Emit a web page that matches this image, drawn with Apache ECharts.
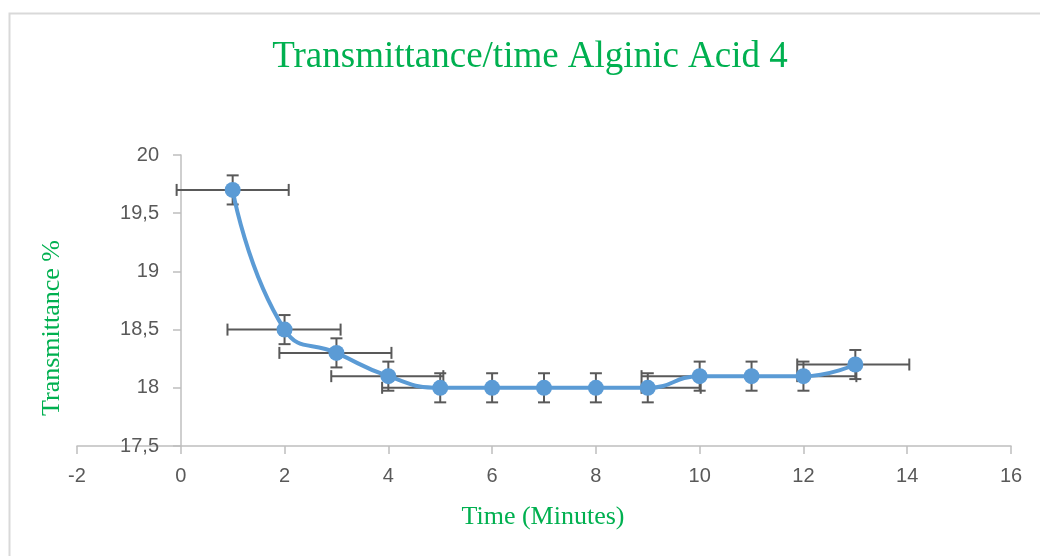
<!DOCTYPE html>
<html>
<head>
<meta charset="utf-8">
<script src="https://cdn.jsdelivr.net/npm/echarts@6/dist/echarts.min.js"></script>
<style>
html,body{margin:0;padding:0;background:#fff;}
#chart{width:1040px;height:556px;}
</style>
</head>
<body>
<div id="chart"></div>
<script>
// ---- data ----
const titleText = 'Transmittance/time Alginic Acid 4';
const xName = 'Time (Minutes)';
const yName = 'Transmittance %';
const timeMin = [1, 2, 3, 4, 5, 6, 7, 8, 9, 10, 11, 12, 13];
const transmittance = [19.7, 18.5, 18.3, 18.1, 18, 18, 18, 18, 18, 18.1, 18.1, 18.1, 18.2];
const yError = [0.125, 0.125, 0.125, 0.125, 0.125, 0.125, 0.125, 0.125, 0.125, 0.125, 0.125, 0.125, 0.125];
const xErrLow = [-0.08, 0.9, 1.9, 2.9, 3.88, null, null, null, 8.88, 8.88, null, 11.88, 11.88];
const xErrHigh = [2.08, 3.08, 4.06, 5.06, 5.04, null, null, null, 10.02, 10.02, null, 13.02, 14.04];
const xTicks = {min: -2, max: 16, interval: 2};
const yTicks = {min: 17.5, max: 20, interval: 0.5};

const points = timeMin.map((t, i) => [t, transmittance[i]]);
const green = '#00B050';
const axisGray = '#BFBFBF';
const labelGray = '#595959';
const barColor = '#595959';

const chart = echarts.init(document.getElementById('chart'));

function renderErr(params, api) {
  const i = params.dataIndex;
  const x = timeMin[i], y = transmittance[i], e = yError[i];
  const style = {stroke: barColor, lineWidth: 2, fill: null};
  const ch = [];
  const top = api.coord([x, y + e]);
  const bot = api.coord([x, y - e]);
  const cap = 6;
  ch.push({type: 'line', shape: {x1: top[0], y1: top[1], x2: bot[0], y2: bot[1]}, style});
  ch.push({type: 'line', shape: {x1: top[0] - cap, y1: top[1], x2: top[0] + cap, y2: top[1]}, style});
  ch.push({type: 'line', shape: {x1: bot[0] - cap, y1: bot[1], x2: bot[0] + cap, y2: bot[1]}, style});
  if (xErrLow[i] !== null && xErrHigh[i] !== null) {
    const l = api.coord([xErrLow[i], y]);
    const r = api.coord([xErrHigh[i], y]);
    ch.push({type: 'line', shape: {x1: l[0], y1: l[1], x2: r[0], y2: r[1]}, style});
    ch.push({type: 'line', shape: {x1: l[0], y1: l[1] - cap, x2: l[0], y2: l[1] + cap}, style});
    ch.push({type: 'line', shape: {x1: r[0], y1: r[1] - cap, x2: r[0], y2: r[1] + cap}, style});
  }
  return {type: 'group', children: ch};
}

chart.setOption({
  animation: false,
  backgroundColor: '#fff',
  grid: {left: 77, right: 29, top: 155, bottom: 110, containLabel: false},
  xAxis: {
    type: 'value',
    min: xTicks.min, max: xTicks.max, interval: xTicks.interval,
    axisLine: {show: true, onZero: false, lineStyle: {color: axisGray, width: 1.5}},
    axisTick: {show: true, length: 8, lineStyle: {color: axisGray, width: 1.5}},
    splitLine: {show: false},
    axisLabel: {color: labelGray, fontSize: 20, fontFamily: 'Liberation Sans', margin: 20}
  },
  yAxis: {
    type: 'value',
    min: yTicks.min, max: yTicks.max, interval: yTicks.interval,
    offset: -104,
    axisLine: {show: true, onZero: false, lineStyle: {color: axisGray, width: 1.5}},
    axisTick: {show: true, length: 8, lineStyle: {color: axisGray, width: 1.5}},
    splitLine: {show: false},
    axisLabel: {color: labelGray, fontSize: 20, fontFamily: 'Liberation Sans', margin: 22,
      formatter: v => String(v).replace('.', ',')}
  },
  graphic: [
    {type: 'rect', shape: {x: 9.5, y: 13.5, width: 1100, height: 600}, style: {fill: null, stroke: '#D9D9D9', lineWidth: 2}, z: -10, silent: true},
    {type: 'text', x: 530, y: 57, style: {text: titleText, fill: green, font: '37px "Liberation Serif"', textAlign: 'center', textVerticalAlign: 'middle'}},
    {type: 'text', x: 543, y: 517, style: {text: xName, fill: green, font: '26px "Liberation Serif"', textAlign: 'center', textVerticalAlign: 'middle'}},
    {type: 'text', x: 52, y: 328, rotation: Math.PI / 2, style: {text: yName, fill: green, font: '26px "Liberation Serif"', textAlign: 'center', textVerticalAlign: 'middle'}}
  ],
  series: [
    {
      type: 'custom',
      renderItem: renderErr,
      data: points,
      encode: {x: 0, y: 1},
      z: 1,
      clip: false
    },
    {
      type: 'line',
      data: points,
      smooth: 0.5,
      symbol: 'circle',
      symbolSize: 16,
      lineStyle: {color: '#5B9BD5', width: 4},
      itemStyle: {color: '#5B9BD5'},
      z: 5
    }
  ]
});
</script>
</body>
</html>
